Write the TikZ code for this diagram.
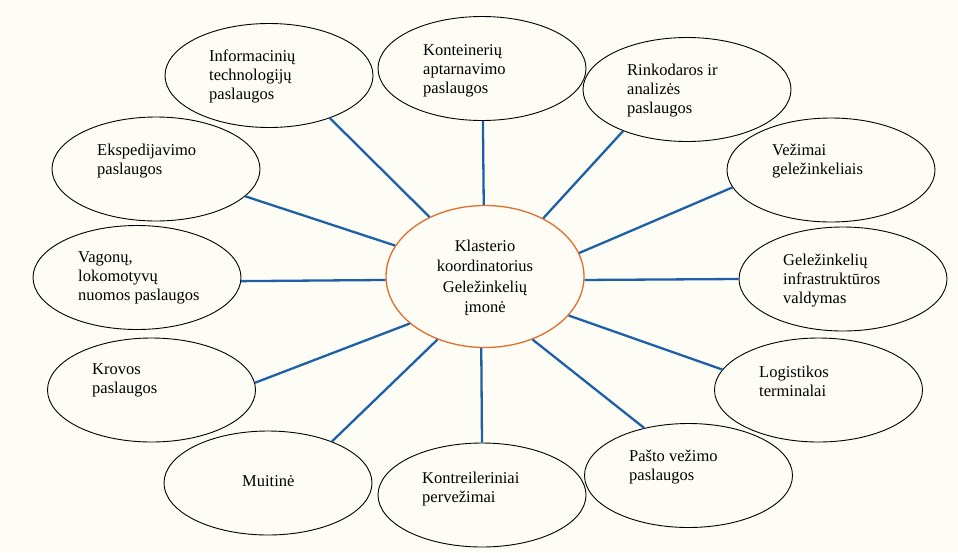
\documentclass[tikz,border=0pt]{standalone}
\usepackage{fontspec}
\setmainfont{Liberation Serif}
\usetikzlibrary{shapes.geometric}
\definecolor{bg}{RGB}{253,253,245}
\definecolor{conn}{RGB}{30,96,168}
\definecolor{hub}{RGB}{228,108,42}
\begin{document}
\begin{tikzpicture}[x=1pt,y=-1pt,
  oval/.style={ellipse, draw=black, line width=0.9pt, inner sep=0pt, minimum width=208pt, minimum height=104pt},
  hubstyle/.style={ellipse, draw=hub, line width=1.3pt, inner sep=0pt, minimum width=198pt, minimum height=142pt},
  lbl/.style={anchor=north west, align=left, inner sep=0pt, font=\fontsize{16.5}{19}\selectfont},
  hublbl/.style={anchor=north, align=center, inner sep=0pt, font=\fontsize{16.5}{20.5}\selectfont},
  link/.style={draw=conn, line width=2.3pt}]
\path[fill=bg] (0,0) rectangle (958,552);
\useasboundingbox (0,0) rectangle (958,552);

% hub
\node[hubstyle] (c) at (485,276.5) {};
\node[hublbl] (tc) at (485,239.7) {Klasterio\\koordinatorius\\Geležinkelių\\įmonė};

% outer ellipses
\node[oval] (e1) at (269,75.5) {};
\node[oval] (e2) at (482,68.5) {};
\node[oval] (e3) at (687,89.5) {};
\node[oval] (e4) at (156,169) {};
\node[oval] (e5) at (831,170) {};
\node[oval] (e6) at (137,277.5) {};
\node[oval] (e7) at (843,279) {};
\node[oval] (e8) at (151.5,390) {};
\node[oval] (e9) at (818.5,390) {};
\node[oval] (e10) at (268,483) {};
\node[oval] (e11) at (482,495) {};
\node[oval] (e12) at (688.5,475.5) {};

% labels
\node[lbl] (t1) at (209,49.7) {Informacinių\\technologijų\\paslaugos};
\node[lbl] (t2) at (423,44.7) {Konteinerių\\aptarnavimo\\paslaugos};
\node[lbl] (t3) at (627,63.7) {Rinkodaros ir\\analizės\\paslaugos};
\node[lbl] (t4) at (97,143.7) {Ekspedijavimo\\paslaugos};
\node[lbl] (t5) at (772,143.7) {Vežimai\\geležinkeliais};
\node[lbl] (t6) at (78,251.7) {Vagonų,\\lokomotyvų\\nuomos paslaugos};
\node[lbl] (t7) at (783,253.7) {Geležinkelių\\infrastruktūros\\valdymas};
\node[lbl] (t8) at (92,363.7) {Krovos\\paslaugos};
\node[lbl] (t9) at (759,365.7) {Logistikos\\terminalai};
\node[lbl] (t10) at (242,475.7) {Muitinė};
\node[lbl] (t11) at (422,471.7) {Kontreileriniai\\pervežimai};
\node[lbl] (t12) at (629,449.7) {Pašto vežimo\\paslaugos};

% connectors
\draw[link] (c.133.2) -- (e1.325.1);
\draw[link] (c.91.6) -- (e2.271);
\draw[link] (c.45.2) -- (e3.213.6);
\draw[link] (c.161.1) -- (e4.343.1);
\draw[link] (c.14.9) -- (e5.190.9);
\draw[link] (c.182.6) -- (e6.358.1);
\draw[link] (c.358) -- (e7.180.6);
\draw[link] (c.212.1) -- (e8.4.4);
\draw[link] (c.335.6) -- (e9.168.3);
\draw[link] (c.233.1) -- (e10.33.7);
\draw[link] (c.267.6) -- (e11.90);
\draw[link] (c.307.4) -- (e12.133.8);
\end{tikzpicture}
\end{document}
